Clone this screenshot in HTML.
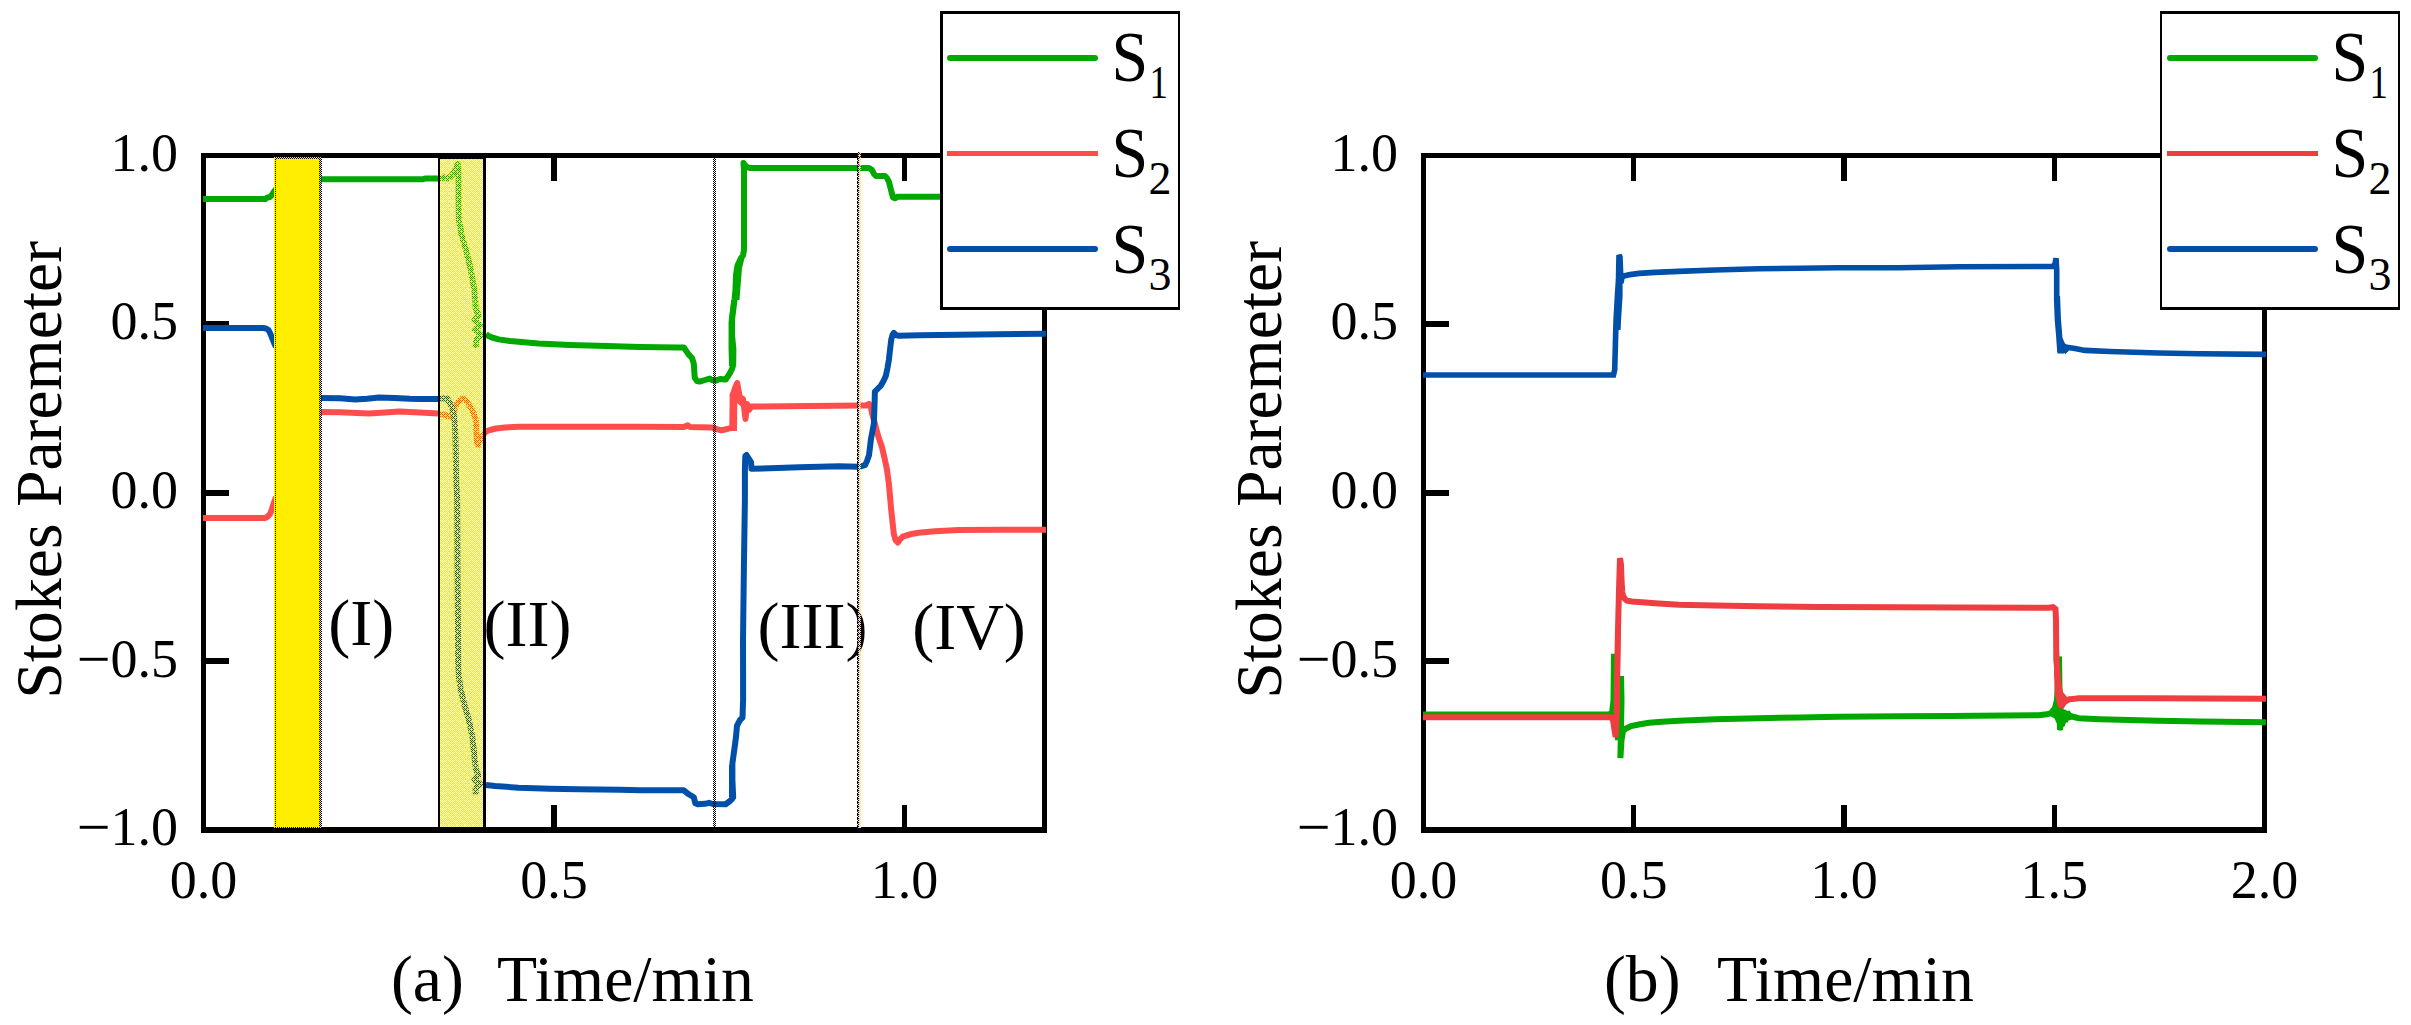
<!DOCTYPE html>
<html lang="en"><head><meta charset="utf-8"><title>Stokes Parameter vs Time</title>
<style>
html,body{margin:0;padding:0;background:#fff;}
body{width:2411px;height:1025px;overflow:hidden;}
svg{display:block;position:absolute;left:0;top:0;}
text{font-family:"Liberation Serif","Times New Roman",Times,serif;fill:#000;}
.tick{font-size:54px;}
.ttl{font-size:65.7px;}
.reg{font-size:66px;}
.leg{font-size:71px;}
.sub{font-size:46px;}
</style></head><body>
<svg width="2411" height="1025" viewBox="0 0 2411 1025">
<defs>
<pattern id="dith" x="6" y="0" width="8" height="8" patternUnits="userSpaceOnUse">
<path d="M1 0h1v1h-1zM3 0h1v1h-1zM5 0h1v1h-1zM7 0h1v1h-1zM0 1h1v1h-1zM1 1h1v1h-1zM2 1h1v1h-1zM4 1h1v1h-1zM6 1h1v1h-1zM1 2h1v1h-1zM3 2h1v1h-1zM5 2h1v1h-1zM7 2h1v1h-1zM0 3h1v1h-1zM2 3h1v1h-1zM3 3h1v1h-1zM4 3h1v1h-1zM6 3h1v1h-1zM7 3h1v1h-1zM1 4h1v1h-1zM3 4h1v1h-1zM5 4h1v1h-1zM7 4h1v1h-1zM0 5h1v1h-1zM2 5h1v1h-1zM4 5h1v1h-1zM5 5h1v1h-1zM6 5h1v1h-1zM1 6h1v1h-1zM3 6h1v1h-1zM5 6h1v1h-1zM7 6h1v1h-1zM0 7h1v1h-1zM2 7h1v1h-1zM3 7h1v1h-1zM4 7h1v1h-1zM6 7h1v1h-1zM7 7h1v1h-1z" fill="#FFEE00" shape-rendering="crispEdges"/>
</pattern>
<pattern id="chk" x="0" y="0" width="2" height="2" patternUnits="userSpaceOnUse">
<path d="M0 0h1v1h-1zM1 1h1v1h-1z" fill="#000" shape-rendering="crispEdges"/>
</pattern>
<pattern id="chkY" x="0" y="0" width="2" height="2" patternUnits="userSpaceOnUse">
<path d="M0 0h1v1h-1zM1 1h1v1h-1z" fill="#FFEE00" shape-rendering="crispEdges"/>
</pattern>
<pattern id="l4" x="1" y="0" width="4" height="4" patternUnits="userSpaceOnUse">
<path d="M0 1h1v3h-1zM1 0h1v1h-1zM1 2h1v1h-1z" fill="#000" shape-rendering="crispEdges"/>
<path d="M1 1h1v1h-1zM1 3h1v1h-1zM2 0h1v1h-1zM2 2h1v2h-1zM3 1h1v1h-1zM3 3h1v1h-1z" fill="#FFEE00" shape-rendering="crispEdges"/>
</pattern>
<clipPath id="clipA"><rect x="203.0" y="155.5" width="843.0" height="674.5"/></clipPath>
<clipPath id="clipB"><rect x="1423.0" y="155.5" width="843.0" height="674.5"/></clipPath>
</defs>
<rect x="0" y="0" width="2411" height="1025" fill="#fff"/>
<g stroke="#000" stroke-width="5.2" fill="none" stroke-linecap="butt" shape-rendering="crispEdges">
<rect x="203.5" y="155.5" width="841.0" height="674.5"/>
<line x1="203.5" y1="324.1" x2="229.0" y2="324.1" stroke-width="6"/>
<line x1="203.5" y1="492.8" x2="229.0" y2="492.8" stroke-width="6"/>
<line x1="203.5" y1="661.4" x2="229.0" y2="661.4" stroke-width="6"/>
<line x1="554.0" y1="155.5" x2="554.0" y2="181.0"/>
<line x1="554.0" y1="830.0" x2="554.0" y2="804.5"/>
<line x1="904.5" y1="155.5" x2="904.5" y2="181.0"/>
<line x1="904.5" y1="830.0" x2="904.5" y2="804.5"/>
</g>
<g stroke="#000" stroke-width="5.2" fill="none" stroke-linecap="butt" shape-rendering="crispEdges">
<rect x="1423.5" y="155.5" width="841.0" height="674.5"/>
<line x1="1423.5" y1="324.1" x2="1449.0" y2="324.1" stroke-width="6"/>
<line x1="1423.5" y1="492.8" x2="1449.0" y2="492.8" stroke-width="6"/>
<line x1="1423.5" y1="661.4" x2="1449.0" y2="661.4" stroke-width="6"/>
<line x1="1633.8" y1="155.5" x2="1633.8" y2="181.0"/>
<line x1="1633.8" y1="830.0" x2="1633.8" y2="804.5"/>
<line x1="1844.0" y1="155.5" x2="1844.0" y2="181.0"/>
<line x1="1844.0" y1="830.0" x2="1844.0" y2="804.5"/>
<line x1="2054.2" y1="155.5" x2="2054.2" y2="181.0"/>
<line x1="2054.2" y1="830.0" x2="2054.2" y2="804.5"/>
</g>
<g clip-path="url(#clipA)">
<polyline points="203.0,199.0 265.5,199.0 267.0,197.6 270.0,197.0 272.0,194.8 274.0,191.5 276.0,189.0" fill="none" stroke="#00A800" stroke-width="6" stroke-linejoin="round" stroke-linecap="butt" />
<polyline points="320.0,179.3 423.0,179.3 425.0,178.5 438.0,178.5 441.0,178.0 444.0,177.3 447.0,178.5 450.0,177.0 453.0,174.0 456.0,168.0 457.8,164.0 458.5,175.0 458.5,200.0 458.8,220.0 460.8,229.6 461.5,235.0 463.0,240.0 465.8,249.5 468.0,258.0 470.7,269.5 472.5,280.0 474.3,289.4 475.2,300.0 475.7,309.3 478.5,315.0 474.5,320.0 480.0,325.0 475.0,330.0 481.0,335.0 476.0,340.0 475.7,348.0" fill="none" stroke="#00A800" stroke-width="6" stroke-linejoin="round" stroke-linecap="butt" />
<polyline points="486.0,334.0 488.0,335.8 492.0,337.5 498.6,339.4 510.0,341.0 538.4,343.4 570.0,345.0 598.0,345.8 640.0,347.0 677.8,347.4 683.8,347.4 688.8,354.7 692.0,358.0 693.8,363.7 694.7,377.6 697.0,381.0 699.7,381.6 705.0,380.0 709.7,378.6 712.0,380.0 715.7,380.6 720.0,379.0 725.6,379.6 729.6,373.7 732.0,369.0 733.2,365.0 733.4,349.0 732.0,335.0 732.0,320.0 734.5,300.0 735.5,289.4 736.0,275.0 737.5,265.5 741.0,258.0 743.0,255.5 744.0,250.0 744.0,200.0 744.0,170.0 743.5,163.0 746.0,166.5 750.0,168.0 869.0,168.0 872.0,170.0 874.0,174.0 876.0,176.0 885.0,176.0 887.0,178.0 889.0,182.0 891.0,190.0 893.0,197.5 895.0,198.3 897.0,196.8 945.0,196.8" fill="none" stroke="#00A800" stroke-width="6" stroke-linejoin="round" stroke-linecap="butt" />
<polyline points="730.8,366.0 730.3,349.0 730.3,322.0 733.0,300.0" fill="none" stroke="#00A800" stroke-width="3.5" stroke-linejoin="round" stroke-linecap="butt" />
<polyline points="738.0,300.0 738.8,289.0 740.5,268.0 743.0,258.0" fill="none" stroke="#00A800" stroke-width="3" stroke-linejoin="round" stroke-linecap="butt" />
<polyline points="203.0,518.0 265.0,518.0 267.5,516.8 270.0,514.0 272.0,509.0 274.0,502.5 276.0,497.0" fill="none" stroke="#FF4D4D" stroke-width="6" stroke-linejoin="round" stroke-linecap="butt" />
<polyline points="320.0,412.0 340.0,412.3 369.0,413.5 385.0,412.5 399.0,411.5 415.0,412.3 429.0,413.0 438.0,413.5 445.0,415.0 450.8,417.5 453.5,412.0 456.8,403.5 460.0,400.0 462.8,398.5 466.0,401.0 470.8,407.5 473.5,413.0 475.7,419.5 476.7,439.4 477.7,445.3 480.0,441.0 482.7,435.4 486.0,431.4 490.0,430.0 496.0,428.5 505.0,427.5 518.5,426.8 640.0,426.8 684.0,427.0 687.8,425.3 690.0,427.0 711.7,427.4 716.0,429.0 721.6,430.4 725.0,429.5 729.6,428.4 732.5,428.0 732.8,410.0 733.5,395.0 735.0,388.0 737.2,383.0 738.5,390.0 739.5,396.0 741.0,402.0 743.0,399.0 745.5,419.0 747.0,404.0 749.0,410.0 751.5,406.5 760.0,406.5 859.0,405.5 866.0,405.5 869.0,404.0 871.0,408.0 872.0,413.5 875.0,424.0 878.0,435.4 882.0,447.3 884.5,458.0 886.9,469.2 888.9,483.9 891.2,509.8 893.8,533.7 895.5,540.0 897.8,542.6 900.0,539.5 902.8,536.6 910.0,534.3 918.7,532.7 935.0,531.2 958.5,530.0 1000.0,529.8 1047.0,529.7" fill="none" stroke="#FF4D4D" stroke-width="6" stroke-linejoin="round" stroke-linecap="butt" />
<polygon points="729.6,431.0 729.6,394.0 732.5,388.0 735.5,383.0 738.5,382.5 740.0,388.0 742.3,396.0 745.0,401.0 747.5,403.5 747.5,409.5 745.8,419.5 744.5,419.5 743.0,409.0 739.5,405.0 737.3,403.0 737.0,431.0" fill="#FF4D4D"/>
<polyline points="203.0,328.0 263.0,328.0 266.0,328.5 268.5,330.0 270.5,334.0 272.5,339.0 274.5,344.0 276.0,347.0" fill="none" stroke="#0050AA" stroke-width="6" stroke-linejoin="round" stroke-linecap="butt" />
<polyline points="320.0,398.0 340.0,398.3 355.0,399.5 367.0,398.8 379.0,397.6 395.0,398.0 410.0,398.8 419.0,399.0 438.0,399.0 443.0,398.3 446.9,398.5 450.0,403.0 452.8,409.5 454.3,418.0 455.2,429.4 455.6,445.0 455.8,459.3 456.2,480.0 457.2,499.0 457.6,580.0 458.2,664.0 458.8,675.8 460.8,689.8 464.5,705.0 468.8,719.6 471.0,730.0 472.7,739.5 474.7,759.4 476.0,770.0 478.5,776.0 474.5,780.0 480.0,784.0 475.5,788.0 475.7,794.3" fill="none" stroke="#0050AA" stroke-width="6" stroke-linejoin="round" stroke-linecap="butt" />
<polyline points="486.0,785.0 495.0,786.0 518.5,787.7 550.0,788.7 578.0,789.3 620.0,789.8 640.0,790.3 683.8,790.3 688.8,794.3 693.8,797.3 695.3,803.2 697.7,804.2 705.0,803.8 709.0,802.8 713.0,804.0 725.6,804.2 729.6,801.3 732.0,799.0 733.2,797.3 732.4,780.0 732.4,763.4 734.6,747.5 736.0,737.0 737.0,725.6 740.0,720.0 742.5,717.6 743.1,700.0 743.1,675.8 743.0,640.0 743.5,600.0 744.0,560.0 744.9,500.0 744.9,470.0 745.3,456.0 746.5,455.0 751.0,462.0 751.5,468.8 770.0,468.2 799.3,467.2 839.0,466.2 859.0,466.8 865.0,465.2 867.0,461.0 869.0,455.3 870.9,439.4 872.5,431.0 873.9,423.4 874.5,405.0 874.9,391.6 878.0,388.5 880.9,385.6 883.5,381.0 885.9,375.7 887.5,368.0 888.9,359.7 890.0,350.0 891.2,339.8 892.5,335.0 893.8,332.8 896.0,335.0 898.8,335.8 920.0,335.2 978.4,334.4 1047.0,333.8" fill="none" stroke="#0050AA" stroke-width="6" stroke-linejoin="round" stroke-linecap="butt" />
<polyline points="730.5,797.0 730.5,765.0" fill="none" stroke="#0050AA" stroke-width="3" stroke-linejoin="round" stroke-linecap="butt" />
<polyline points="735.5,747.0 736.5,727.0" fill="none" stroke="#0050AA" stroke-width="3" stroke-linejoin="round" stroke-linecap="butt" />
</g>
<g shape-rendering="crispEdges">
<rect x="274" y="157" width="47" height="671" fill="#FFEE00"/>
<rect x="275" y="159" width="1" height="669" fill="url(#chk)"/>
<rect x="319" y="159" width="3" height="669" fill="url(#chk)"/>
<rect x="275" y="157" width="46" height="2" fill="url(#chk)"/>
<rect x="275" y="827" width="46" height="1" fill="url(#chk)"/>
<rect x="440" y="159" width="43" height="668" fill="url(#dith)"/>
<rect x="438" y="158" width="2" height="669" fill="#000"/>
<rect x="483" y="158" width="3" height="669" fill="#000"/>
<rect x="438" y="158" width="48" height="1" fill="#000"/>
<rect x="713" y="158" width="3" height="669" fill="url(#chk)"/>
</g>
<g clip-path="url(#clipB)">
<polyline points="1423.0,714.5 1608.0,714.5 1612.0,713.5 1613.5,700.0 1614.0,653.7 1614.8,690.0 1616.0,720.0 1618.0,740.0 1619.5,700.0 1621.0,676.0 1621.5,700.0 1620.4,758.0 1621.5,740.0 1623.0,731.0 1626.0,728.5 1631.0,726.0 1640.0,724.2 1649.0,722.8 1662.0,721.7 1678.8,720.8 1715.0,719.3 1758.4,718.2 1800.0,717.4 1838.0,716.8 1897.8,716.2 1950.0,716.0 2039.0,715.2 2047.0,714.3 2051.0,713.2 2055.0,708.0 2057.0,700.0 2058.0,680.0 2059.0,656.5 2059.5,690.0 2060.0,730.0 2061.0,712.0 2062.0,726.0 2063.5,710.0 2065.0,722.0 2067.0,712.0 2069.0,715.2 2074.0,717.0 2079.0,718.2 2100.0,719.2 2158.6,720.8 2200.0,721.5 2267.0,722.2" fill="none" stroke="#00A800" stroke-width="6" stroke-linejoin="miter" stroke-miterlimit="2" stroke-linecap="butt" />
<polygon points="2051.0,712.5 2055.0,709.0 2058.0,706.5 2062.0,708.0 2066.0,711.0 2070.0,714.0 2073.0,716.5 2072.0,719.5 2067.0,721.0 2064.0,726.0 2061.5,730.5 2058.5,730.5 2057.0,724.0 2054.5,718.5 2051.0,716.5" fill="#00A800"/>
<polyline points="1423.0,717.2 1611.0,717.2 1613.0,720.0 1614.5,730.0 1615.7,737.0 1616.5,720.0 1617.0,679.0 1618.0,629.6 1619.0,590.0 1620.0,558.0 1621.0,565.0 1621.5,580.0 1622.3,592.0 1623.0,595.7 1625.0,599.0 1627.0,600.7 1632.0,601.5 1639.0,602.1 1655.0,603.3 1678.8,604.7 1715.0,605.6 1758.4,606.3 1820.0,606.9 1897.8,607.3 1960.0,607.6 2049.0,607.7 2053.0,607.2 2055.5,609.0 2056.0,620.0 2056.3,659.5 2058.0,679.4 2059.5,695.0 2061.0,707.2 2063.0,704.0 2065.0,701.5 2069.0,699.3 2079.0,698.3 2150.0,698.3 2267.0,698.7" fill="none" stroke="#EE3E42" stroke-width="6" stroke-linejoin="miter" stroke-miterlimit="2" stroke-linecap="butt" />
<polygon points="2054.0,650.0 2059.0,650.0 2060.5,680.0 2063.0,692.0 2067.0,697.0 2071.0,696.5 2071.0,701.5 2066.0,703.5 2063.5,707.0 2060.5,708.5 2057.5,706.0 2055.0,695.0 2054.0,675.0" fill="#EE3E42"/>
<polyline points="1619.3,600.0 1618.6,660.0 1617.8,715.0" fill="none" stroke="#EE3E42" stroke-width="3.5" stroke-linejoin="miter" stroke-miterlimit="2" stroke-linecap="butt" />
<polyline points="1423.0,375.0 1613.5,375.0 1614.7,370.0 1615.5,340.0 1616.1,319.5 1617.5,295.0 1618.5,279.7 1619.0,255.0 1620.0,257.0 1620.5,270.0 1621.0,283.0 1622.0,277.0 1625.0,275.7 1630.0,274.6 1639.0,273.4 1655.0,272.4 1678.8,271.4 1715.0,270.0 1758.4,268.8 1800.0,268.2 1838.0,267.8 1897.8,267.8 1959.5,266.8 2053.0,266.4 2055.0,264.0 2056.0,258.2 2056.7,270.0 2056.7,300.0 2057.5,320.0 2058.8,335.0 2059.5,345.0 2060.0,352.4 2061.5,347.0 2063.0,352.0 2064.5,346.5 2066.0,349.5 2068.0,347.4 2075.0,348.6 2085.0,350.4 2110.0,351.5 2158.6,353.0 2200.0,353.8 2267.0,354.4" fill="none" stroke="#0050AA" stroke-width="5.6" stroke-linejoin="miter" stroke-miterlimit="2" stroke-linecap="butt" />
<polyline points="1620.6,282.0 1620.6,296.0 1619.2,318.0 1618.6,330.0" fill="none" stroke="#0050AA" stroke-width="4" stroke-linejoin="miter" stroke-miterlimit="2" stroke-linecap="butt" />
<polyline points="2058.6,296.0 2059.4,318.0 2061.0,338.0" fill="none" stroke="#0050AA" stroke-width="3" stroke-linejoin="miter" stroke-miterlimit="2" stroke-linecap="butt" />
<polygon points="2057.3,338.0 2062.5,338.0 2065.0,343.5 2068.5,345.5 2068.5,351.0 2064.0,353.6 2057.6,353.6" fill="#0050AA"/>
</g>
<text class="reg" x="328.3" y="645">(I)</text>
<text class="reg" x="483.5" y="646">(II)</text>
<text class="reg" x="757.5" y="648">(III)</text>
<text class="reg" x="912.2" y="648.5">(IV)</text>
<g shape-rendering="crispEdges">
<rect x="857" y="152" width="4" height="676" fill="url(#l4)"/>
</g>
<text class="tick" text-anchor="end" x="178.0" y="170.8">1.0</text>
<text class="tick" text-anchor="end" x="178.0" y="339.4">0.5</text>
<text class="tick" text-anchor="end" x="178.0" y="508.1">0.0</text>
<text class="tick" text-anchor="end" x="178.0" y="676.7"><tspan font-size="60" dy="1.9">−</tspan><tspan dy="-1.9">0.5</tspan></text>
<text class="tick" text-anchor="end" x="178.0" y="845.3"><tspan font-size="60" dy="1.9">−</tspan><tspan dy="-1.9">1.0</tspan></text>
<text class="tick" text-anchor="end" x="1398.0" y="170.8">1.0</text>
<text class="tick" text-anchor="end" x="1398.0" y="339.4">0.5</text>
<text class="tick" text-anchor="end" x="1398.0" y="508.1">0.0</text>
<text class="tick" text-anchor="end" x="1398.0" y="676.7"><tspan font-size="60" dy="1.9">−</tspan><tspan dy="-1.9">0.5</tspan></text>
<text class="tick" text-anchor="end" x="1398.0" y="845.3"><tspan font-size="60" dy="1.9">−</tspan><tspan dy="-1.9">1.0</tspan></text>
<text class="tick" text-anchor="middle" x="203.5" y="897.8">0.0</text>
<text class="tick" text-anchor="middle" x="554.0" y="897.8">0.5</text>
<text class="tick" text-anchor="middle" x="904.5" y="897.8">1.0</text>
<text class="tick" text-anchor="middle" x="1423.5" y="897.8">0.0</text>
<text class="tick" text-anchor="middle" x="1633.8" y="897.8">0.5</text>
<text class="tick" text-anchor="middle" x="1844.0" y="897.8">1.0</text>
<text class="tick" text-anchor="middle" x="2054.2" y="897.8">1.5</text>
<text class="tick" text-anchor="middle" x="2264.5" y="897.8">2.0</text>
<text class="ttl" x="391" y="1000.5">(a)</text>
<text class="ttl" x="497" y="1000.5">Time/min</text>
<text class="ttl" x="1604" y="1000.5">(b)</text>
<text class="ttl" x="1717" y="1000.5">Time/min</text>
<text class="ttl" text-anchor="middle" transform="translate(61.0,469.8) rotate(-90)">Stokes Paremeter</text>
<text class="ttl" text-anchor="middle" transform="translate(1281.0,469.8) rotate(-90)">Stokes Paremeter</text>
<rect x="941.2" y="12.2" width="238" height="296.3" fill="#fff" stroke="#000" stroke-width="2.6" shape-rendering="crispEdges"/>
<line x1="950.0" y1="58" x2="1095.0" y2="58" stroke="#00A800" stroke-width="6" stroke-linecap="round"/>
<line x1="947.0" y1="153.5" x2="1098.0" y2="153.5" stroke="#FF4D4D" stroke-width="5" stroke-linecap="butt"/>
<line x1="950.0" y1="249" x2="1095.0" y2="249" stroke="#0050AA" stroke-width="6" stroke-linecap="round"/>
<text class="leg" transform="translate(1111.5,81.3) scale(0.93,1)">S</text>
<text class="sub" transform="translate(1149.5,98.0) scale(0.8,1)">1</text>
<text class="leg" transform="translate(1111.5,177.3) scale(0.93,1)">S</text>
<text class="sub" x="1148.5" y="194.0">2</text>
<text class="leg" transform="translate(1111.5,273.3) scale(0.93,1)">S</text>
<text class="sub" x="1148.5" y="290.0">3</text>
<rect x="2161.2" y="12.2" width="238" height="296.3" fill="#fff" stroke="#000" stroke-width="2.6" shape-rendering="crispEdges"/>
<line x1="2170.0" y1="58" x2="2315.0" y2="58" stroke="#00A800" stroke-width="6" stroke-linecap="round"/>
<line x1="2167.0" y1="153.5" x2="2318.0" y2="153.5" stroke="#EE3E42" stroke-width="5" stroke-linecap="butt"/>
<line x1="2170.0" y1="249" x2="2315.0" y2="249" stroke="#0050AA" stroke-width="6" stroke-linecap="round"/>
<text class="leg" transform="translate(2331.5,81.3) scale(0.93,1)">S</text>
<text class="sub" transform="translate(2369.5,98.0) scale(0.8,1)">1</text>
<text class="leg" transform="translate(2331.5,177.3) scale(0.93,1)">S</text>
<text class="sub" x="2368.5" y="194.0">2</text>
<text class="leg" transform="translate(2331.5,273.3) scale(0.93,1)">S</text>
<text class="sub" x="2368.5" y="290.0">3</text>
</svg>
</body></html>
